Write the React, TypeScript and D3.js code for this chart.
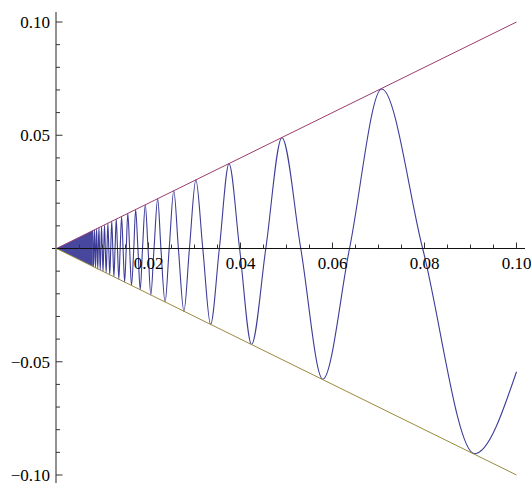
import React from 'react';
import * as d3 from 'd3';

// turning points of the oscillating curve (largest x first)
const peakX = [
  0.0909, 0.0707, 0.0579, 0.049, 0.0424, 0.0375, 0.0335, 0.0303, 0.0277, 0.0255,
  0.0236, 0.022, 0.0205, 0.0193, 0.0182, 0.0172, 0.0163, 0.0155, 0.01481, 0.01415,
  0.01355, 0.01299, 0.01248, 0.01201, 0.01158, 0.01117, 0.01079, 0.01044, 0.01011, 0.00979,
  0.0095, 0.00923, 0.00897, 0.00872, 0.00849, 0.00827, 0.00806, 0.00786,
];
const peakY = [
  -0.0906, 0.0704, -0.0577, 0.0489, -0.0424, 0.0374, -0.0335, 0.0303, -0.0277, 0.0255,
  -0.0236, 0.0219, -0.0205, 0.0193, -0.0182, 0.0172, -0.0163, 0.0155, -0.0148, 0.0141,
  -0.0135, 0.013, -0.0125, 0.012, -0.0116, 0.0112, -0.0108, 0.0104, -0.0101, 0.0098,
  -0.0095, 0.0092, -0.009, 0.0087, -0.0085, 0.0083, -0.0081, 0.0079,
];
// where the curve crosses the x axis
const zeroX = [
  0.0796, 0.0637, 0.0531, 0.0455, 0.0398, 0.0354, 0.0318, 0.0289, 0.0265, 0.0245,
  0.0227, 0.0212, 0.0199, 0.0187, 0.0177, 0.0168, 0.0159, 0.01516, 0.01447, 0.01384,
  0.01326, 0.01273, 0.01224, 0.01179, 0.01137, 0.01098, 0.01061, 0.01027, 0.00995, 0.00965,
  0.00936, 0.00909, 0.00884, 0.0086, 0.00838, 0.00816, 0.00796,
];
const endPoint = [0.1, -0.0544];
// below this x the oscillation is a solid blue wedge
const denseUntil = 0.0079;
// envelope lines y = x and y = -x
const envX = [0, 0.1];

const xMajor = [0.02, 0.04, 0.06, 0.08, 0.1];
const xLabels = ['0.02', '0.04', '0.06', '0.08', '0.10'];
const yMajor = [0.1, 0.05, -0.05, -0.1];
const yLabels = ['0.10', '0.05', '\u22120.05', '\u22120.10'];

const W = 531;
const H = 483;
const blue = '#3d3d99';
const purple = '#993d71';
const olive = '#998a3d';
const font = "'Liberation Serif', 'Times New Roman', Times, serif";

export default function App() {
  const x = d3.scaleLinear().domain([0, 0.1]).range([56.5, 516.5]);
  const y = d3.scaleLinear().domain([-0.1, 0.1]).range([475, 22]);

  const pts: [number, number][] = [[endPoint[0], endPoint[1]]];
  peakX.forEach((v, i) => pts.push([v, peakY[i]]));
  zeroX.forEach((v) => pts.push([v, 0]));
  pts.sort((a, b) => a[0] - b[0]);

  const curve = d3
    .line<[number, number]>()
    .x((d) => x(d[0]))
    .y((d) => y(d[1]))
    .curve(d3.curveMonotoneX)(pts);

  const wedge = d3
    .line<[number, number]>()
    .x((d) => x(d[0]))
    .y((d) => y(d[1]))([
    [0, 0],
    [denseUntil, denseUntil],
    [denseUntil, -denseUntil],
  ]) + 'Z';

  const upper = d3.line<number>().x((d) => x(d)).y((d) => y(d))(envX);
  const lower = d3.line<number>().x((d) => x(d)).y((d) => y(-d))(envX);

  const xMinor = d3.range(0.005, 0.1001, 0.005).filter((v) => !xMajor.some((m) => Math.abs(m - v) < 1e-9));
  const yMinor = d3.range(-0.1, 0.1001, 0.01).filter(
    (v) => Math.abs(v) > 1e-9 && !yMajor.some((m) => Math.abs(m - v) < 1e-9)
  );

  const x0 = x(0) - 0.5;
  const y0 = y(0);

  return (
    <svg width={W} height={H} style={{ position: 'absolute', left: 0, top: 0, background: '#fff' }}>
      <path d={wedge} fill={blue} opacity={0.95} />
      <path d={curve ?? ''} fill="none" stroke={blue} strokeWidth={1.1} />
      <path d={upper ?? ''} fill="none" stroke={purple} strokeWidth={1} />
      <path d={lower ?? ''} fill="none" stroke={olive} strokeWidth={1} />

      {/* x axis */}
      <line x1={52} x2={525} y1={y0} y2={y0} stroke="#111" strokeWidth={1} />
      {xMajor.map((v) => (
        <line key={'xM' + v} x1={x(v)} x2={x(v)} y1={y0} y2={y0 - 6} stroke="#333" strokeWidth={1} />
      ))}
      {xMinor.map((v) => (
        <line key={'xm' + v} x1={x(v)} x2={x(v)} y1={y0} y2={y0 - 4} stroke="#333" strokeWidth={1} />
      ))}
      <g style={{ fontFamily: font, fontSize: '17px' }} fill="#000">
        {xMajor.map((v, i) => (
          <text key={'xl' + v} x={x(v)} y={269} textAnchor="middle">
            {xLabels[i]}
          </text>
        ))}
      </g>

      {/* y axis */}
      <line x1={x0} x2={x0} y1={12} y2={H} stroke="#777" strokeWidth={1.6} />
      {yMajor.map((v) => (
        <line key={'yM' + v} x1={x0} x2={x0 + 6.5} y1={y(v)} y2={y(v)} stroke="#333" strokeWidth={1} />
      ))}
      {yMinor.map((v) => (
        <line key={'ym' + v} x1={x0} x2={x0 + 4} y1={y(v)} y2={y(v)} stroke="#333" strokeWidth={1} />
      ))}
      <g style={{ fontFamily: font, fontSize: '17px' }} fill="#000">
        {yMajor.map((v, i) => (
          <text key={'yl' + v} x={50} y={y(v) + 6} textAnchor="end">
            {yLabels[i]}
          </text>
        ))}
      </g>
    </svg>
  );
}
